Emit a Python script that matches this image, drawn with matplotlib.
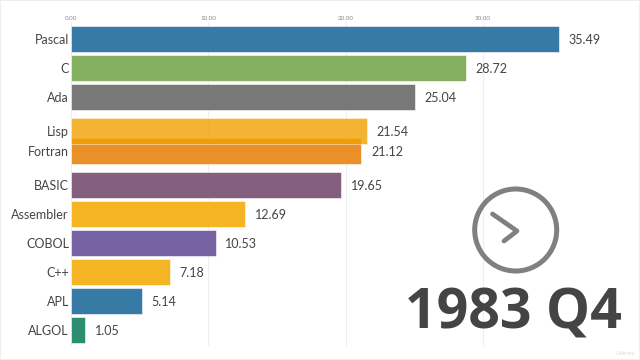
import matplotlib
matplotlib.use("Agg")
import matplotlib.pyplot as plt
from matplotlib.patches import Circle, Rectangle

plt.rcParams['font.family'] = ['Lato', 'DejaVu Sans']

languages = ['Pascal', 'C', 'Ada', 'Lisp', 'Fortran', 'BASIC', 'Assembler', 'COBOL', 'C++', 'APL', 'ALGOL']
values = [35.49, 28.72, 25.04, 21.54, 21.12, 19.65, 12.69, 10.53, 7.18, 5.14, 1.05]
# rank is fractional because this is one frame of an animated race
ranks = [0, 1, 2, 3.17, 3.86, 5.03, 6.03, 7.03, 8.03, 9.03, 10.03]
colors = ['#377aa6', '#84b060', '#787878', '#f1a100', '#ea9029', '#84607e',
          '#f4b424', '#7662a2', '#f4b424', '#377aa6', '#2c8e70']
ticks = [0, 10, 20, 30]
period = '1983 Q4'

fig = plt.figure(figsize=(6.4, 3.6), dpi=100)
fig.patch.set_facecolor('white')

ax = fig.add_axes([71 / 640, 14 / 360, 569 / 640, 324 / 360])
bars = ax.barh(ranks, values, height=0.9, color=colors, edgecolor='#ffffff', linewidth=0.4, zorder=2)
# Lisp sits over Fortran, half see-through, that makes the darker band
bars[3].set_alpha(0.8)
bars[3].set_zorder(3)
ax.set_xlim(0, 569 / 13.74)
ax.set_ylim(10.586, -0.586)

ax.xaxis.tick_top()
ax.set_xticks(ticks)
ax.set_xticklabels(['%.2f' % t for t in ticks])
ax.tick_params(axis='x', length=0, pad=0.8, labelsize=4.5, labelcolor='#8c8c8c')
ax.set_yticks(ranks)
ax.set_yticklabels(languages)
ax.tick_params(axis='y', length=0, pad=1.5, labelsize=9, labelcolor='#444444')
ax.grid(axis='x', color='#eeeeee', lw=0.8, zorder=0)
ax.set_axisbelow(True)
for s in ax.spines.values():
    s.set_visible(False)

for v, r in zip(values, ranks):
    ax.annotate('%.2f' % v, (v, r), xytext=(7, 0), textcoords='offset points',
                va='center_baseline', ha='left', fontsize=9, color='#444444')

# overlay in pixel coordinates for the clock, period label and frame
over = fig.add_axes([0, 0, 1, 1], facecolor='none')
over.set_xlim(0, 640)
over.set_ylim(360, 0)
over.axis('off')
over.add_patch(Circle((515.7, 230), 41, fill=False, ec='#808080', lw=3.6))
over.plot([492.5, 517, 504], [214, 231, 241], color='#808080', lw=3.4,
          solid_capstyle='round', solid_joinstyle='round')
over.text(622, 329, period, ha='right', va='baseline', fontsize=40,
          family=['Open Sans', 'DejaVu Sans'], fontweight='bold', color='#444444')
over.text(635, 355, 'Udemy', ha='right', va='baseline', fontsize=4.5, color='#dddddd')
over.add_patch(Rectangle((0, 0), 640, 360, fill=False, ec='#eeeeee', lw=1.5))

fig.savefig('out.png', dpi=100)
